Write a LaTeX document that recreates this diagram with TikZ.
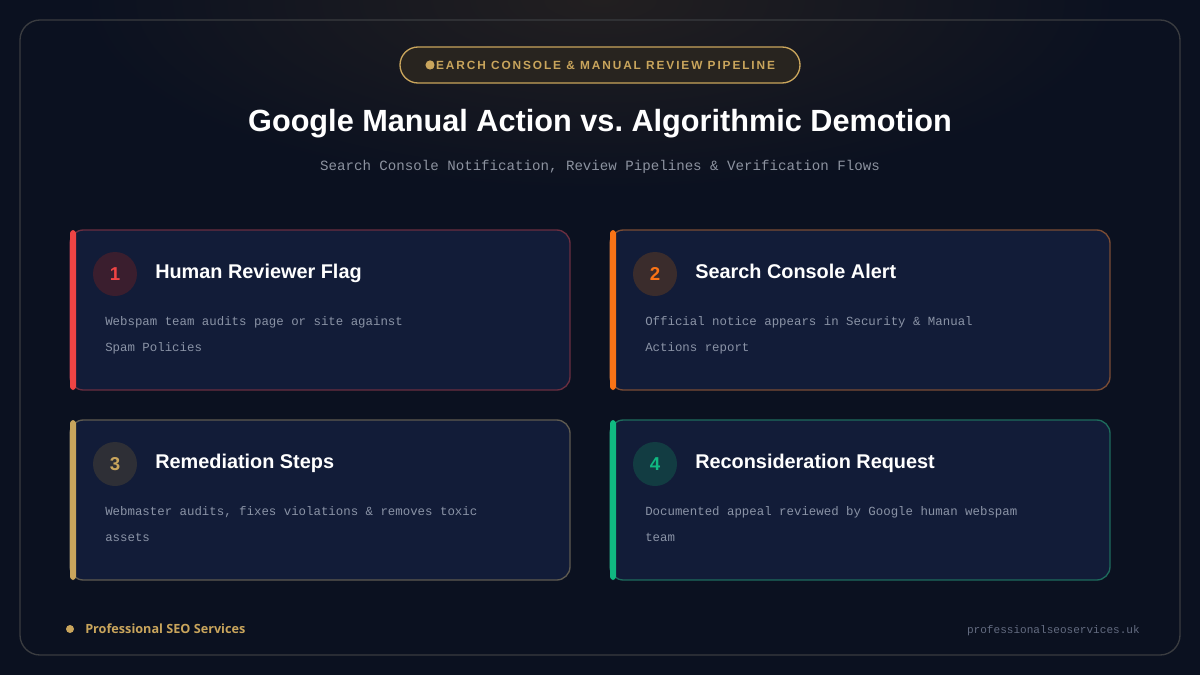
\documentclass[tikz,border=0pt]{standalone}
\usepackage{fontspec}
\setmainfont{Liberation Sans}
\setmonofont{Liberation Mono}
\newfontfamily\footfont{Open Sans}
\definecolor{bgDark}{HTML}{0B1120}
\definecolor{bgGlow}{HTML}{221F20}
\definecolor{frameLine}{HTML}{3A3C40}
\definecolor{gold}{HTML}{C9A55C}
\definecolor{pillFill}{HTML}{28241F}
\definecolor{cardFill}{HTML}{121C38}
\definecolor{descGrey}{HTML}{8A93A6}
\definecolor{subGrey}{HTML}{8D93A0}
\definecolor{urlGrey}{HTML}{636B80}
\definecolor{accA}{HTML}{EF4444}
\definecolor{accB}{HTML}{F97316}
\definecolor{accC}{HTML}{C9A55C}
\definecolor{accD}{HTML}{10B981}
\definecolor{bdA}{HTML}{6A2E40}
\definecolor{bdB}{HTML}{7A4C34}
\definecolor{bdC}{HTML}{5E5A50}
\definecolor{bdD}{HTML}{1E6B5C}
\definecolor{numFillA}{HTML}{3A1E2E}
\definecolor{numFillB}{HTML}{3A2C2C}
\definecolor{numFillC}{HTML}{2E2F36}
\definecolor{numFillD}{HTML}{123C42}

\begin{document}
\begin{tikzpicture}[x=0.75pt,y=-0.75pt,
    card/.style={fill=cardFill, line width=1pt, rounded corners=10pt,
      minimum width=375pt, minimum height=120pt, inner sep=0pt},
    num/.style={circle, minimum size=33pt, inner sep=0pt,
      font=\fontsize{14}{14}\selectfont\bfseries},
    head/.style={anchor=base west, text=white, inner sep=0pt,
      font=\fontsize{14.9}{16}\selectfont\bfseries},
    desc/.style={anchor=north west, text=descGrey, align=left, inner sep=0pt,
      font=\ttfamily\fontsize{9.3}{20}\selectfont}]
    \useasboundingbox (0,0) rectangle (1200,675);
    \clip (0,0) rectangle (1200,675);
    \fill[bgDark] (0,0) rectangle (1200,675);
    \shade[inner color=bgGlow, outer color=bgDark] (600,0) ellipse (520 and 190);
    \draw[frameLine, line width=1pt, rounded corners=15pt] (20,20) rectangle (1180,655);

    \node[draw=gold, fill=pillFill, line width=1pt, rounded corners=13.5pt,
      minimum width=300pt, minimum height=27pt] (pill) at (600,65) {};
    \node[anchor=west, text=gold, inner sep=0pt,
      font=\fontsize{8.9}{10}\selectfont\bfseries\addfontfeature{LetterSpace=16}]
      (pillText) at (426,65) {SEARCH CONSOLE \& MANUAL REVIEW PIPELINE};
    \fill[gold] (430,65) circle (3.4pt);

    \node[text=white, font=\fontsize{23}{26}\selectfont\bfseries] (title) at (600,124)
      {Google Manual Action vs.\ Algorithmic Demotion};
    \node[text=subGrey, font=\ttfamily\fontsize{10.6}{12}\selectfont] (subtitle) at (600,167)
      {Search Console Notification, Review Pipelines \& Verification Flows};

    \node[card, draw=bdA] (cardA) at (320,310) {};
    \fill[accA, rounded corners=2.5pt] (70,230) rectangle (76,390);
    \node[num, fill=numFillA, text=accA] (numA) at (115,274) {1};
    \node[head] (headA) at (155,278) {Human Reviewer Flag};
    \node[desc] (txtA) at (105,316) {Webspam team audits page or site against\\Spam Policies};

    \node[card, draw=bdB] (cardB) at (860,310) {};
    \fill[accB, rounded corners=2.5pt] (610,230) rectangle (616,390);
    \node[num, fill=numFillB, text=accB] (numB) at (655,274) {2};
    \node[head] (headB) at (695,278) {Search Console Alert};
    \node[desc] (txtB) at (645,316) {Official notice appears in Security \& Manual\\Actions report};

    \node[card, draw=bdC] (cardC) at (320,500) {};
    \fill[accC, rounded corners=2.5pt] (70,420) rectangle (76,580);
    \node[num, fill=numFillC, text=accC] (numC) at (115,464) {3};
    \node[head] (headC) at (155,468) {Remediation Steps};
    \node[desc] (txtC) at (105,506) {Webmaster audits, fixes violations \& removes toxic\\assets};

    \node[card, draw=bdD] (cardD) at (860,500) {};
    \fill[accD, rounded corners=2.5pt] (610,420) rectangle (616,580);
    \node[num, fill=numFillD, text=accD] (numD) at (655,464) {4};
    \node[head] (headD) at (695,468) {Reconsideration Request};
    \node[desc] (txtD) at (645,506) {Documented appeal reviewed by Google human webspam\\team};

    \fill[gold] (70,629) circle (3pt);
    \node[anchor=west, text=gold, inner sep=0pt, font=\footfont\fontsize{9.5}{12}\selectfont\bfseries]
      (brand) at (85,629) {Professional SEO Services};
    \node[anchor=east, text=urlGrey, inner sep=0pt, font=\ttfamily\fontsize{8.3}{10}\selectfont]
      (url) at (1140,631) {professionalseoservices.uk};
\end{tikzpicture}
\end{document}
